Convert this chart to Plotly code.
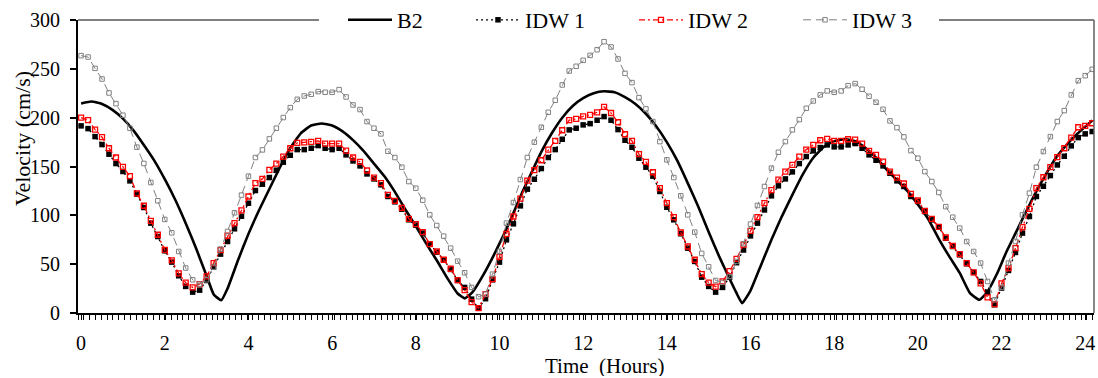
import plotly.graph_objects as go

# ---------------- data ----------------
# IDW series sampled every 10 minutes (146 samples, 0 .. 24h10m)
TIME_H = [i / 6 for i in range(146)]

IDW1 = [191.6, 188.8, 180.6, 172.5, 162.6, 153.0, 144.9, 135.3, 121.7, 108.0,
        92.0, 78.3, 63.7, 52.1, 38.1, 27.2, 21.4, 23.4, 33.3, 47.0,
        60.3, 73.2, 86.2, 99.1, 112.4, 125.4, 131.9, 138.7, 146.2, 154.4,
        161.5, 167.3, 167.3, 168.7, 171.4, 168.7, 167.3, 168.7, 161.9, 155.7,
        150.6, 142.4, 137.3, 131.2, 119.3, 113.8, 106.3, 95.4, 90.0, 81.8,
        70.5, 62.3, 54.5, 44.6, 33.3, 26.2, 14.2, 5.0, 14.6, 34.0,
        52.1, 74.9, 91.3, 109.7, 126.8, 137.0, 147.9, 159.2, 167.3, 177.9,
        187.5, 189.2, 192.6, 193.9, 197.4, 201.1, 197.4, 187.8, 176.9, 169.7,
        158.5, 149.3, 140.1, 124.4, 108.3, 95.4, 81.1, 66.4, 52.8, 36.7,
        27.2, 21.4, 26.2, 36.7, 51.5, 64.5, 79.0, 92.0, 105.5, 120.0,
        130.2, 137.3, 144.5, 153.0, 160.2, 166.0, 169.4, 172.1, 170.1, 170.1,
        172.1, 173.5, 168.7, 161.9, 156.4, 150.6, 143.1, 135.3, 129.5, 119.3,
        114.2, 103.9, 95.4, 87.9, 76.6, 68.1, 59.6, 50.4, 41.5, 32.3,
        21.1, 8.4, 25.5, 43.6, 62.0, 81.8, 98.8, 119.3, 129.8, 140.7,
        151.6, 160.5, 171.1, 179.6, 183.4, 185.8]

IDW2 = [200.1, 197.4, 187.8, 180.0, 168.7, 159.2, 149.6, 140.1, 122.4, 109.8,
        94.4, 80.1, 64.7, 53.8, 40.5, 31.0, 26.2, 29.6, 37.5, 51.1,
        64.4, 79.1, 92.0, 105.0, 119.3, 133.0, 137.3, 146.5, 153.0, 160.2,
        168.7, 174.2, 174.8, 175.2, 176.2, 173.5, 173.5, 173.5, 166.3, 159.2,
        154.7, 145.9, 138.7, 132.9, 121.0, 114.8, 107.7, 96.4, 91.0, 82.8,
        70.5, 63.0, 54.5, 45.3, 33.7, 23.4, 11.2, 5.0, 19.3, 34.7,
        57.5, 81.1, 98.8, 117.2, 135.6, 146.2, 156.4, 167.3, 176.2, 187.1,
        197.4, 198.7, 201.4, 202.8, 205.5, 211.0, 204.8, 195.3, 183.0, 176.2,
        162.6, 154.7, 144.1, 127.8, 112.4, 98.1, 82.4, 68.1, 54.5, 39.8,
        31.0, 27.0, 32.3, 42.8, 55.5, 70.0, 84.0, 98.2, 112.4, 125.8,
        136.6, 144.8, 151.6, 160.2, 167.3, 172.1, 176.9, 178.3, 176.2, 176.2,
        177.9, 177.6, 173.5, 166.0, 161.9, 155.0, 144.8, 138.7, 132.6, 122.0,
        115.2, 104.6, 96.4, 88.2, 77.3, 68.8, 60.3, 51.1, 41.5, 30.3,
        16.0, 9.1, 30.3, 45.9, 66.4, 87.9, 106.7, 127.8, 139.0, 149.3,
        159.5, 168.7, 179.6, 190.2, 191.5, 194.3]

IDW3 = [263.5, 262.1, 250.5, 239.6, 225.3, 214.4, 202.5, 189.2, 169.8, 153.1,
        133.6, 114.9, 95.8, 82.1, 63.0, 46.0, 34.0, 29.6, 34.0, 47.0,
        65.5, 83.5, 102.6, 120.7, 140.1, 159.2, 167.0, 178.3, 189.2, 200.1,
        210.3, 218.8, 222.2, 223.9, 226.7, 226.0, 226.0, 228.7, 221.2, 213.0,
        208.3, 196.0, 189.2, 183.4, 165.6, 159.2, 149.3, 134.6, 127.8, 115.5,
        100.5, 89.6, 78.7, 66.4, 53.1, 41.2, 26.2, 16.7, 19.3, 39.8,
        63.0, 92.0, 113.1, 136.6, 159.2, 174.9, 190.2, 205.5, 217.8, 233.5,
        247.8, 252.6, 258.7, 263.8, 269.6, 277.8, 272.4, 260.1, 245.4, 235.9,
        220.5, 209.0, 196.0, 175.5, 156.8, 138.7, 120.0, 100.5, 82.8, 61.0,
        47.3, 33.3, 31.3, 37.4, 52.8, 70.9, 91.0, 110.1, 129.5, 148.3,
        164.6, 175.5, 187.5, 198.0, 209.6, 217.1, 223.3, 227.4, 226.0, 227.4,
        232.8, 234.9, 229.1, 221.9, 215.8, 208.6, 196.7, 189.8, 180.3, 166.3,
        158.5, 144.8, 134.6, 123.4, 108.9, 98.1, 86.9, 73.2, 63.0, 51.1,
        32.3, 13.5, 26.2, 51.1, 73.2, 100.5, 122.7, 149.3, 165.3, 180.6,
        196.0, 207.2, 223.3, 237.9, 243.0, 249.5]

# B2 reference curve (smooth line)
B2_TIME = [0.0, 0.25, 0.5, 0.75, 1.0, 1.25, 1.5, 1.75, 2.0, 2.25, 2.5, 2.75, 3.0, 3.17, 3.35,
           3.5, 3.75, 4.0, 4.25, 4.5, 4.75, 5.0, 5.25, 5.5, 5.75, 6.0, 6.25, 6.5,
           6.75, 7.0, 7.25, 7.5, 7.75, 8.0, 8.25, 8.5, 8.75, 9.0, 9.17, 9.35, 9.6, 9.85,
           10.1, 10.3, 10.55, 10.8, 11.0, 11.25, 11.5, 11.75, 12.0, 12.25, 12.5, 12.75,
           13.0, 13.25, 13.5, 13.75, 14.0, 14.25, 14.5, 14.75, 15.0, 15.25, 15.5, 15.67,
           15.8, 16.0, 16.25, 16.5, 16.75, 17.0, 17.25, 17.5, 17.75, 18.0, 18.25, 18.5,
           18.75, 19.0, 19.25, 19.5, 19.75, 20.0, 20.25, 20.5, 20.75, 21.0, 21.25, 21.47,
           21.65, 21.9, 22.1, 22.35, 22.6, 22.85, 23.1, 23.3, 23.55, 23.8, 24.05, 24.17]
B2 = [214.5, 216.5, 214.0, 208.0, 199.0, 187.0, 172.0, 156.0, 137.0, 116.0, 92.0, 66.0, 38.0, 19.0, 13.0,
      25.0, 54.0, 81.0, 105.0, 127.0, 149.0, 169.0, 184.0, 192.0, 194.0, 192.0, 186.0, 177.0,
      166.0, 153.0, 140.0, 124.0, 106.0, 89.0, 71.0, 54.0, 36.0, 20.0, 15.0, 21.0, 38.0, 58.0,
      80.0, 99.0, 124.0, 147.0, 165.0, 184.0, 200.0, 212.0, 220.0, 225.0, 227.0, 226.0,
      221.0, 214.0, 204.0, 191.0, 175.0, 156.0, 133.0, 109.0, 83.0, 58.0, 35.0, 20.0,
      10.0, 23.0, 49.0, 75.0, 99.0, 121.0, 142.0, 159.0, 170.0, 176.0, 178.0, 176.0,
      169.0, 159.0, 147.0, 136.0, 125.0, 111.0, 96.0, 76.0, 58.0, 41.0, 20.0, 13.5,
      21.0, 41.0, 61.0, 83.0, 105.0, 126.0, 145.0, 159.0, 172.0, 183.0, 192.6, 197.0]

X_TICKS = [0, 2, 4, 6, 8, 10, 12, 14, 16, 18, 20, 22, 24]
Y_TICKS = [0, 50, 100, 150, 200, 250, 300]

SERIF = "Liberation Serif, Times New Roman, serif"

fig = go.Figure()
fig.add_trace(go.Scatter(x=B2_TIME, y=B2, name="B2", mode="lines",
                         line=dict(color="black", width=2.6, shape="spline", smoothing=0.4),
                         legend="legend"))
fig.add_trace(go.Scatter(x=TIME_H, y=IDW1, name="IDW 1", mode="lines+markers",
                         line=dict(color="black", width=1.3, dash="2px,3px"),
                         marker=dict(symbol="square", size=5.5, color="black"),
                         legend="legend2"))
fig.add_trace(go.Scatter(x=TIME_H, y=IDW2, name="IDW 2", mode="lines+markers",
                         line=dict(color="#ff0000", width=1.3, dash="6px,3px,2px,3px"),
                         marker=dict(symbol="square-open", size=5, color="#ff0000",
                                     line=dict(width=1.3, color="#ff0000")),
                         legend="legend3"))
fig.add_trace(go.Scatter(x=TIME_H, y=IDW3, name="IDW 3", mode="lines+markers",
                         line=dict(color="#808080", width=1.0, dash="8px,5px"),
                         marker=dict(symbol="square-open", size=4.5, color="#808080",
                                     line=dict(width=1.0, color="#808080")),
                         legend="legend4"))

W, H = 1098, 378
L, R, T, B = 78, 4, 20, 65
PW = W - L - R
PH = H - T - B


def px(xpix):
    return (xpix - L) / PW


def py(ypix):
    return (H - B - ypix) / PH


leg_common = dict(orientation="h", yanchor="middle", y=1.0, xanchor="left",
                  bgcolor="rgba(0,0,0,0)", borderwidth=0, itemwidth=44,
                  font=dict(family=SERIF, size=22, color="black"))

fig.update_layout(
    width=W, height=H,
    margin=dict(l=L, r=R, t=T, b=B, autoexpand=False),
    paper_bgcolor="white", plot_bgcolor="white",
    font=dict(family=SERIF, size=20, color="black"),
    showlegend=True,
    legend=dict(x=px(343), **leg_common),
    legend2=dict(x=px(471), **leg_common),
    legend3=dict(x=px(634), **leg_common),
    legend4=dict(x=px(798), **leg_common),
    xaxis=dict(range=[-0.074, 24.21], tickmode="array", tickvals=X_TICKS,
               ticktext=[str(v) for v in X_TICKS], automargin=False,
               showline=True, linecolor="black", linewidth=1.8,
               ticks="outside", ticklen=5, tickwidth=1, tickcolor="black",
               minor=dict(ticks="outside", ticklen=5, tickwidth=1, tickcolor="black",
                          tick0=-0.074, dtick=0.1394),
               showgrid=False, zeroline=False, ticklabelstandoff=6,
               tickfont=dict(family=SERIF, size=20)),
    yaxis=dict(range=[0, 300], tickmode="array", tickvals=Y_TICKS, automargin=False,
               showline=True, linecolor="black", linewidth=1.8,
               ticks="outside", ticklen=6, tickwidth=1.5, tickcolor="black",
               showgrid=False, zeroline=False, ticklabelstandoff=6,
               tickfont=dict(family=SERIF, size=20)),
    annotations=[
        dict(text="Velocity (cm/s)", xref="paper", yref="paper", x=px(22), y=py(139),
             xanchor="center", yanchor="middle", textangle=-90, showarrow=False,
             font=dict(family=SERIF, size=22, color="black")),
        dict(text="Time  (Hours)", xref="paper", yref="paper", x=px(604), y=py(377),
             xanchor="center", yanchor="bottom", showarrow=False, borderpad=0,
             height=21, valign="middle",
             font=dict(family=SERIF, size=21, color="black")),
    ],
    shapes=[
        dict(type="line", xref="paper", yref="paper", x0=0, x1=px(319), y0=1, y1=1,
             line=dict(color="#808080", width=2)),
        dict(type="line", xref="paper", yref="paper", x0=px(939), x1=1, y0=1, y1=1,
             line=dict(color="#808080", width=2)),
        dict(type="line", xref="paper", yref="paper", x0=1, x1=1, y0=0, y1=1,
             line=dict(color="#606060", width=1.5)),
    ],
)

fig.write_html("out.html")
